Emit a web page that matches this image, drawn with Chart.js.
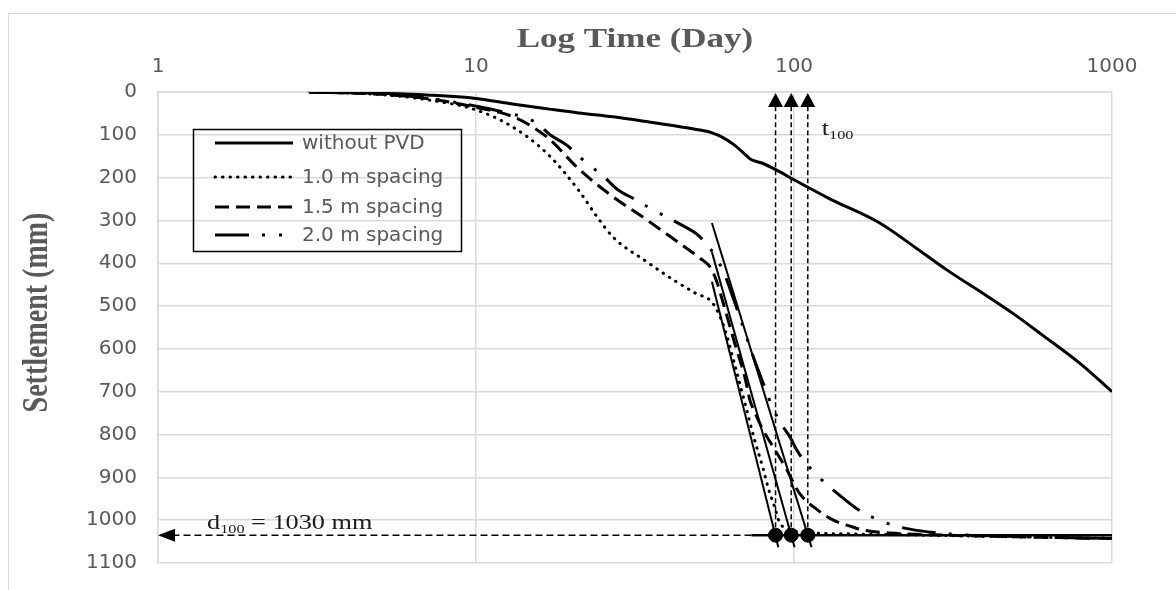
<!DOCTYPE html>
<html><head><meta charset="utf-8">
<script src="https://cdn.jsdelivr.net/npm/chart.js@4.4.1/dist/chart.umd.min.js"></script>
<style>html,body{margin:0;background:#fff}#wrap{width:1176px;height:590px;position:relative}</style>
</head><body><div id="wrap"><canvas id="c"></canvas></div>
<script>
// axis ticks
const xTicks=[1,10,100,1000];
const yMax=1100, yStep=100;

// settlement curves (days, mm)
const daysNoPvd=[3,5,7,10,13,17,21,27,35,42,50,55,60,65,70,73,80,90,100,130,186,250,303,400,488,600,800,1000];
const mmNoPvd=[0,3,7,15,28,40,49,58,70,79,88,95,107,124,145,157,167,186,205,250,306,372,416,474,517,566,636,700];
const days10=[3,5,7,10,13,16.7,21,24,27,34.5,42,49,55.5,60,65,70,75,80,83,87,90,95,100,150,300,600,1000];
const mm10=[0,6,18,42,81,143,229,291,339,397,440,470,493,545,635,725,810,880,925,970,1005,1020,1026,1032,1036,1040,1042];
const days15=[3,5,7,10,13.1,16.7,21.2,27,34.5,43.6,50.6,54.5,57,60,65,70,72.7,75,80,86,95,104,119,133,153,165,200,300,600,1000];
const mm15=[0,5,15,36,58,105,182,245,299,353,388,409,440,495,585,665,720,745,790,829,883,937,977,1000,1016,1023,1030,1035,1040,1043];
const days20=[3,5,7,10,11.9,15.5,17.1,19.3,21.2,25.5,28,31.5,35.2,44.4,49.9,55,60,65,70,75,80,86,92,97,102,110,120,143,159,179,205,250,320,500,1000];
const mm20=[0,5,14,33,45,72,100,124,152,201,229,250,271,311,334,370,420,490,560,625,680,740,780,805,836,870,900,949,975,995,1012,1025,1033,1038,1043];
const labels=['without PVD','1.0 m spacing','1.5 m spacing','2.0 m spacing'];

// construction: tangents, asymptote, t100 / d100
const tangentDays=[[55.2,89.3],[55.2,100.4],[55.2,113.5]];
const tangentMm=[[443,1063],[374,1063],[306,1063]];
const asymDays=[73.5,1000];
const d100Mm=1035;
const t100Days=[87.5,98,110.5];

const pts=(d,m)=>d.map((v,i)=>({x:v,y:m[i]}));
const curve=(label,d,m,dash,cap)=>({label,data:pts(d,m),borderColor:'#000',borderWidth:3,borderDash:dash,borderCapStyle:cap||'butt',pointRadius:0,cubicInterpolationMode:'monotone',fill:false});

const datasets=[
  curve(labels[0],daysNoPvd,mmNoPvd,[]),
  curve(labels[1],days10,mm10,[0.5,7],'round'),
  curve(labels[2],days15,mm15,[14,7]),
  curve(labels[3],days20,mm20,[34,13,3,14,3,13]),
  ...tangentDays.map((d,i)=>({label:'tan'+i,data:pts(d,tangentMm[i]),borderColor:'#000',borderWidth:2,pointRadius:0})),
  {label:'asym',data:asymDays.map(d=>({x:d,y:d100Mm})),borderColor:'#000',borderWidth:2.5,pointRadius:0},
  {label:'t100',data:t100Days.map(d=>({x:d,y:d100Mm})),showLine:false,pointRadius:7,backgroundColor:'#000',borderColor:'#000'}
];

function sText(g,txt,x,y,font,o={}){
  g.save();g.translate(x,y);g.scale(o.sx||1.25,1);if(o.rot)g.rotate(o.rot);
  g.font=font;g.fillStyle=o.color||'#1a1a1a';g.textAlign=o.align||'left';g.textBaseline=o.base||'alphabetic';
  g.fillText(txt,0,0);const w=g.measureText(txt).width*(o.sx||1.25);g.restore();return w;
}

const overlay={id:'overlay',
  beforeDraw(c){const g=c.ctx;g.save();g.strokeStyle='#d9d9d9';g.lineWidth=1;g.strokeRect(8.5,13.5,c.width+50,c.height+50);g.restore();},
  afterDatasetsDraw(c){
    const g=c.ctx,xs=c.scales.x,ys=c.scales.y,ya=ys.getPixelForValue(d100Mm);
    g.save();g.strokeStyle='#000';g.fillStyle='#000';g.lineWidth=1.5;
    // vertical t100 arrows
    t100Days.forEach(d=>{
      const px=xs.getPixelForValue(d);
      g.setLineDash([5,3]);g.beginPath();g.moveTo(px,ya);g.lineTo(px,ys.top+14);g.stroke();
      g.setLineDash([]);g.beginPath();g.moveTo(px,ys.top+1);g.lineTo(px+7.5,ys.top+15);g.lineTo(px-7.5,ys.top+15);g.closePath();g.fill();
    });
    // horizontal d100 arrow
    const x0=xs.getPixelForValue(asymDays[0]);
    g.setLineDash([7,4]);g.beginPath();g.moveTo(x0,ya);g.lineTo(xs.left+14,ya);g.stroke();
    g.setLineDash([]);g.beginPath();g.moveTo(xs.left,ya);g.lineTo(xs.left+17,ya-6.5);g.lineTo(xs.left+17,ya+6.5);g.closePath();g.fill();
    g.restore();
    // annotation text
    let x=207;
    x+=sText(g,'d',x,ya-6,'21px "Liberation Serif"');
    x+=sText(g,'100',x,ya-2,'13px "Liberation Serif"');
    sText(g,' = 1030 mm',x,ya-6,'21px "Liberation Serif"');
    const tx=xs.getPixelForValue(t100Days[2])+14;
    const w=sText(g,'t',tx,135,'21px "Liberation Serif"');
    sText(g,'100',tx+w,139,'13px "Liberation Serif"');
    // legend
    g.save();g.strokeStyle='#000';g.lineWidth=1.5;g.strokeRect(193.5,129.5,268,122);
    const rows=[143,177,207,235];
    rows.forEach((ry,i)=>{
      const ds=c.data.datasets[i];
      g.save();g.strokeStyle='#000';g.lineWidth=3;g.setLineDash(ds.borderDash);g.lineCap=ds.borderCapStyle;
      g.beginPath();g.moveTo(215,ry);g.lineTo(293,ry);g.stroke();g.restore();
      g.font='20px "DejaVu Sans"';g.fillStyle='#595959';g.textBaseline='middle';g.textAlign='left';
      g.fillText(ds.label,302,ry+1);
    });
    g.restore();
  },
  afterDraw(c){
    const g=c.ctx,xs=c.scales.x,ys=c.scales.y;
    sText(g,'Log Time (Day)',(xs.left+xs.right)/2,40,'bold 28px "Liberation Serif"',{align:'center',base:'middle',color:'#595959'});
    sText(g,'Settlement (mm)',38,(ys.top+ys.bottom)/2-15,'bold 28px "Liberation Serif"',{align:'center',base:'middle',color:'#595959',rot:-Math.PI/2});
  }
};

Chart.defaults.font.family='"DejaVu Sans"';
new Chart(document.getElementById('c'),{
  type:'line',
  data:{datasets},
  options:{responsive:true,maintainAspectRatio:false,animation:false,events:[],
    layout:{padding:{left:0,top:0,right:64,bottom:27}},
    plugins:{legend:{display:false},tooltip:{enabled:false}},
    scales:{
      x:{type:'logarithmic',position:'top',min:1,max:1000,
        afterBuildTicks:s=>{s.ticks=xTicks.map(v=>({value:v}));},
        afterFit:s=>{s.height=92;},
        ticks:{callback:v=>String(v),color:'#595959',font:{size:20},padding:13,maxRotation:0,autoSkip:false},
        grid:{color:'#d9d9d9',lineWidth:1.5,drawTicks:false},border:{color:'#d9d9d9',width:1.5}},
      y:{reverse:true,min:0,max:yMax,
        afterFit:s=>{s.width=158;},
        ticks:{stepSize:yStep,callback:v=>String(v),color:'#595959',font:{size:20},padding:0},
        grid:{color:'#d9d9d9',lineWidth:1.5,drawTicks:true,tickLength:21,tickColor:'rgba(0,0,0,0)'},border:{color:'#d9d9d9',width:1.5}}
    }
  },
  plugins:[overlay]
});
</script></body></html>
